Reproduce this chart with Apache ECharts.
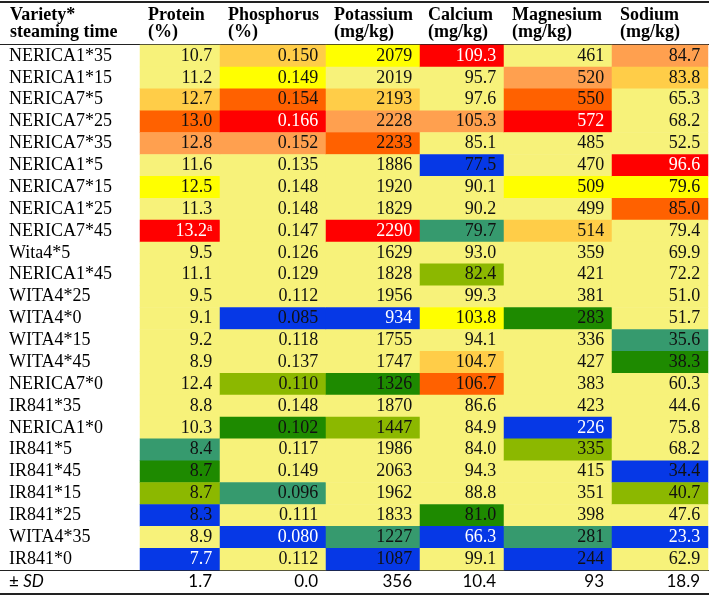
<!DOCTYPE html>
<html><head><meta charset="utf-8">
<script src="https://cdn.jsdelivr.net/npm/echarts@6/dist/echarts.min.js"></script>
<style>html,body{margin:0;padding:0;background:#fff}#c{width:709px;height:596px}</style>
</head><body><div id="c"></div>
<script>
const rowNames = ['NERICA1*35','NERICA1*15','NERICA7*5','NERICA7*25','NERICA7*35','NERICA1*5','NERICA7*15','NERICA1*25','NERICA7*45','Wita4*5','NERICA1*45','WITA4*25','WITA4*0','WITA4*15','WITA4*45','NERICA7*0','IR841*35','NERICA1*0','IR841*5','IR841*45','IR841*15','IR841*25','WITA4*35','IR841*0'];
const columnNames = ['Protein','Phosphorus','Potassium','Calcium','Magnesium','Sodium'];
const columnUnits = ['(%)','(%)','(mg/kg)','(mg/kg)','(mg/kg)','(mg/kg)'];
const decimals = [1,3,0,1,0,1];
const protein = [10.7,11.2,12.7,13.0,12.8,11.6,12.5,11.3,13.2,9.5,11.1,9.5,9.1,9.2,8.9,12.4,8.8,10.3,8.4,8.7,8.7,8.3,8.9,7.7];
const phosphorus = [0.150,0.149,0.154,0.166,0.152,0.135,0.148,0.148,0.147,0.126,0.129,0.112,0.085,0.118,0.137,0.110,0.148,0.102,0.117,0.149,0.096,0.111,0.080,0.112];
const potassium = [2079,2019,2193,2228,2233,1886,1920,1829,2290,1629,1828,1956,934,1755,1747,1326,1870,1447,1986,2063,1962,1833,1227,1087];
const calcium = [109.3,95.7,97.6,105.3,85.1,77.5,90.1,90.2,79.7,93.0,82.4,99.3,103.8,94.1,104.7,106.7,86.6,84.9,84.0,94.3,88.8,81.0,66.3,99.1];
const magnesium = [461,520,550,572,485,470,509,499,514,359,421,381,283,336,427,383,423,226,335,415,351,398,281,244];
const sodium = [84.7,83.8,65.3,68.2,52.5,96.6,79.6,85.0,79.4,69.9,72.2,51.0,51.7,35.6,38.3,60.3,44.6,75.8,68.2,34.4,40.7,47.6,23.3,62.9];
const sdValues = ['1.7','0.0','356','10.4','93','18.9'];
const footnote = {col:0,row:8,mark:'a'};

const columns = [protein,phosphorus,potassium,calcium,magnesium,sodium];

// layout / style
const edges = [140,220,326,420,504,612,708];
const TOP = 45, ROWH = 21.875;
const BASE = '#F7F27A';
const HIGH = ['#FF0000','#FF6100','#FFA04F','#FFCD48','#FFFF00'];
const LOW = ['#0638E6','#0638E6','#369A6E','#1E8A00','#8CB800'];
const SERIF = '"Liberation Serif","Times New Roman",serif';

function colorsFor(vals){
  const idx = vals.map((v,i)=>i);
  const cols = vals.map(()=>({bg:BASE,fg:'#111'}));
  const desc = idx.slice().sort((a,b)=>vals[b]-vals[a] || a-b);
  const asc = idx.slice().sort((a,b)=>vals[a]-vals[b] || a-b);
  for(let k=0;k<5;k++){ cols[desc[k]] = {bg:HIGH[k], fg: k===0?'#fff':'#111'}; }
  for(let k=0;k<5;k++){ cols[asc[k]] = {bg:LOW[k], fg: k===0?'#fff':'#111'}; }
  return cols;
}

const grids=[],xAxes=[],yAxes=[],series=[];
columns.forEach((vals,c)=>{
  grids.push({left:edges[c],width:edges[c+1]-edges[c],top:TOP,height:ROWH*rowNames.length});
  xAxes.push({type:'category',gridIndex:c,data:[columnNames[c]],show:false});
  yAxes.push({type:'category',gridIndex:c,data:rowNames,inverse:true,show:c===0,
    axisLine:{show:false},axisTick:{show:false},splitLine:{show:false},
    axisLabel:{interval:0,align:'left',margin:edges[0]-9,fontFamily:SERIF,fontSize:18,color:'#000'}});
  const cl = colorsFor(vals);
  series.push({type:'heatmap',xAxisIndex:c,yAxisIndex:c,
    emphasis:{disabled:true},
    data: vals.map((v,r)=>({value:[0,r,v],itemStyle:{color:cl[r].bg},
      label:{color:cl[r].fg}})),
    label:{show:true,position:'insideRight',distance:8,fontFamily:SERIF,fontSize:18,
      formatter:p=>{
        const s = p.value[2].toFixed(decimals[c]);
        if(c===footnote.col && p.value[1]===footnote.row) return '{v|'+s+'}{s|'+footnote.mark+'}';
        return s;
      },
      rich:{v:{fontFamily:SERIF,fontSize:18,lineHeight:19},
            s:{fontFamily:SERIF,fontSize:12,lineHeight:19,verticalAlign:'top'}}}
  });
});

const graphics=[];
// lines
graphics.push({type:'rect',shape:{x:0,y:1,width:709,height:2},style:{fill:'#222'}});
graphics.push({type:'rect',shape:{x:0,y:44,width:709,height:1},style:{fill:'#222'}});
graphics.push({type:'rect',shape:{x:0,y:570,width:709,height:1},style:{fill:'#222'}});
graphics.push({type:'rect',shape:{x:0,y:593,width:709,height:2},style:{fill:'#222'}});
// header
const hStyle = {fontFamily:SERIF,fontSize:18,fontWeight:'bold',fill:'#000',verticalAlign:'middle'};
graphics.push({type:'text',x:10,y:15,style:Object.assign({text:'Variety*'},hStyle)});
graphics.push({type:'text',x:10,y:32,style:Object.assign({text:'steaming time'},hStyle)});
columnNames.forEach((n,c)=>{
  graphics.push({type:'text',x:edges[c]+8,y:15,style:Object.assign({text:n},hStyle)});
  graphics.push({type:'text',x:edges[c]+8,y:32,style:Object.assign({text:columnUnits[c]},hStyle)});
});
// SD row
const sdStyle = {fontFamily:'Lato, "Open Sans", sans-serif',fontSize:17,fill:'#000'};
graphics.push({type:'text',x:9,y:582,style:Object.assign({text:'± {i|SD}',verticalAlign:'middle',rich:{i:{fontStyle:'italic',fontFamily:'Lato',fontSize:17}}},sdStyle)});
sdValues.forEach((s,c)=>{
  graphics.push({type:'text',x:edges[c+1]-8,y:582,style:Object.assign({text:s,align:'right',verticalAlign:'middle'},sdStyle)});
});

const chart = echarts.init(document.getElementById('c'),null,{renderer:'canvas'});
chart.setOption({animation:false,grid:grids,xAxis:xAxes,yAxis:yAxes,series:series,graphic:graphics});
</script></body></html>
